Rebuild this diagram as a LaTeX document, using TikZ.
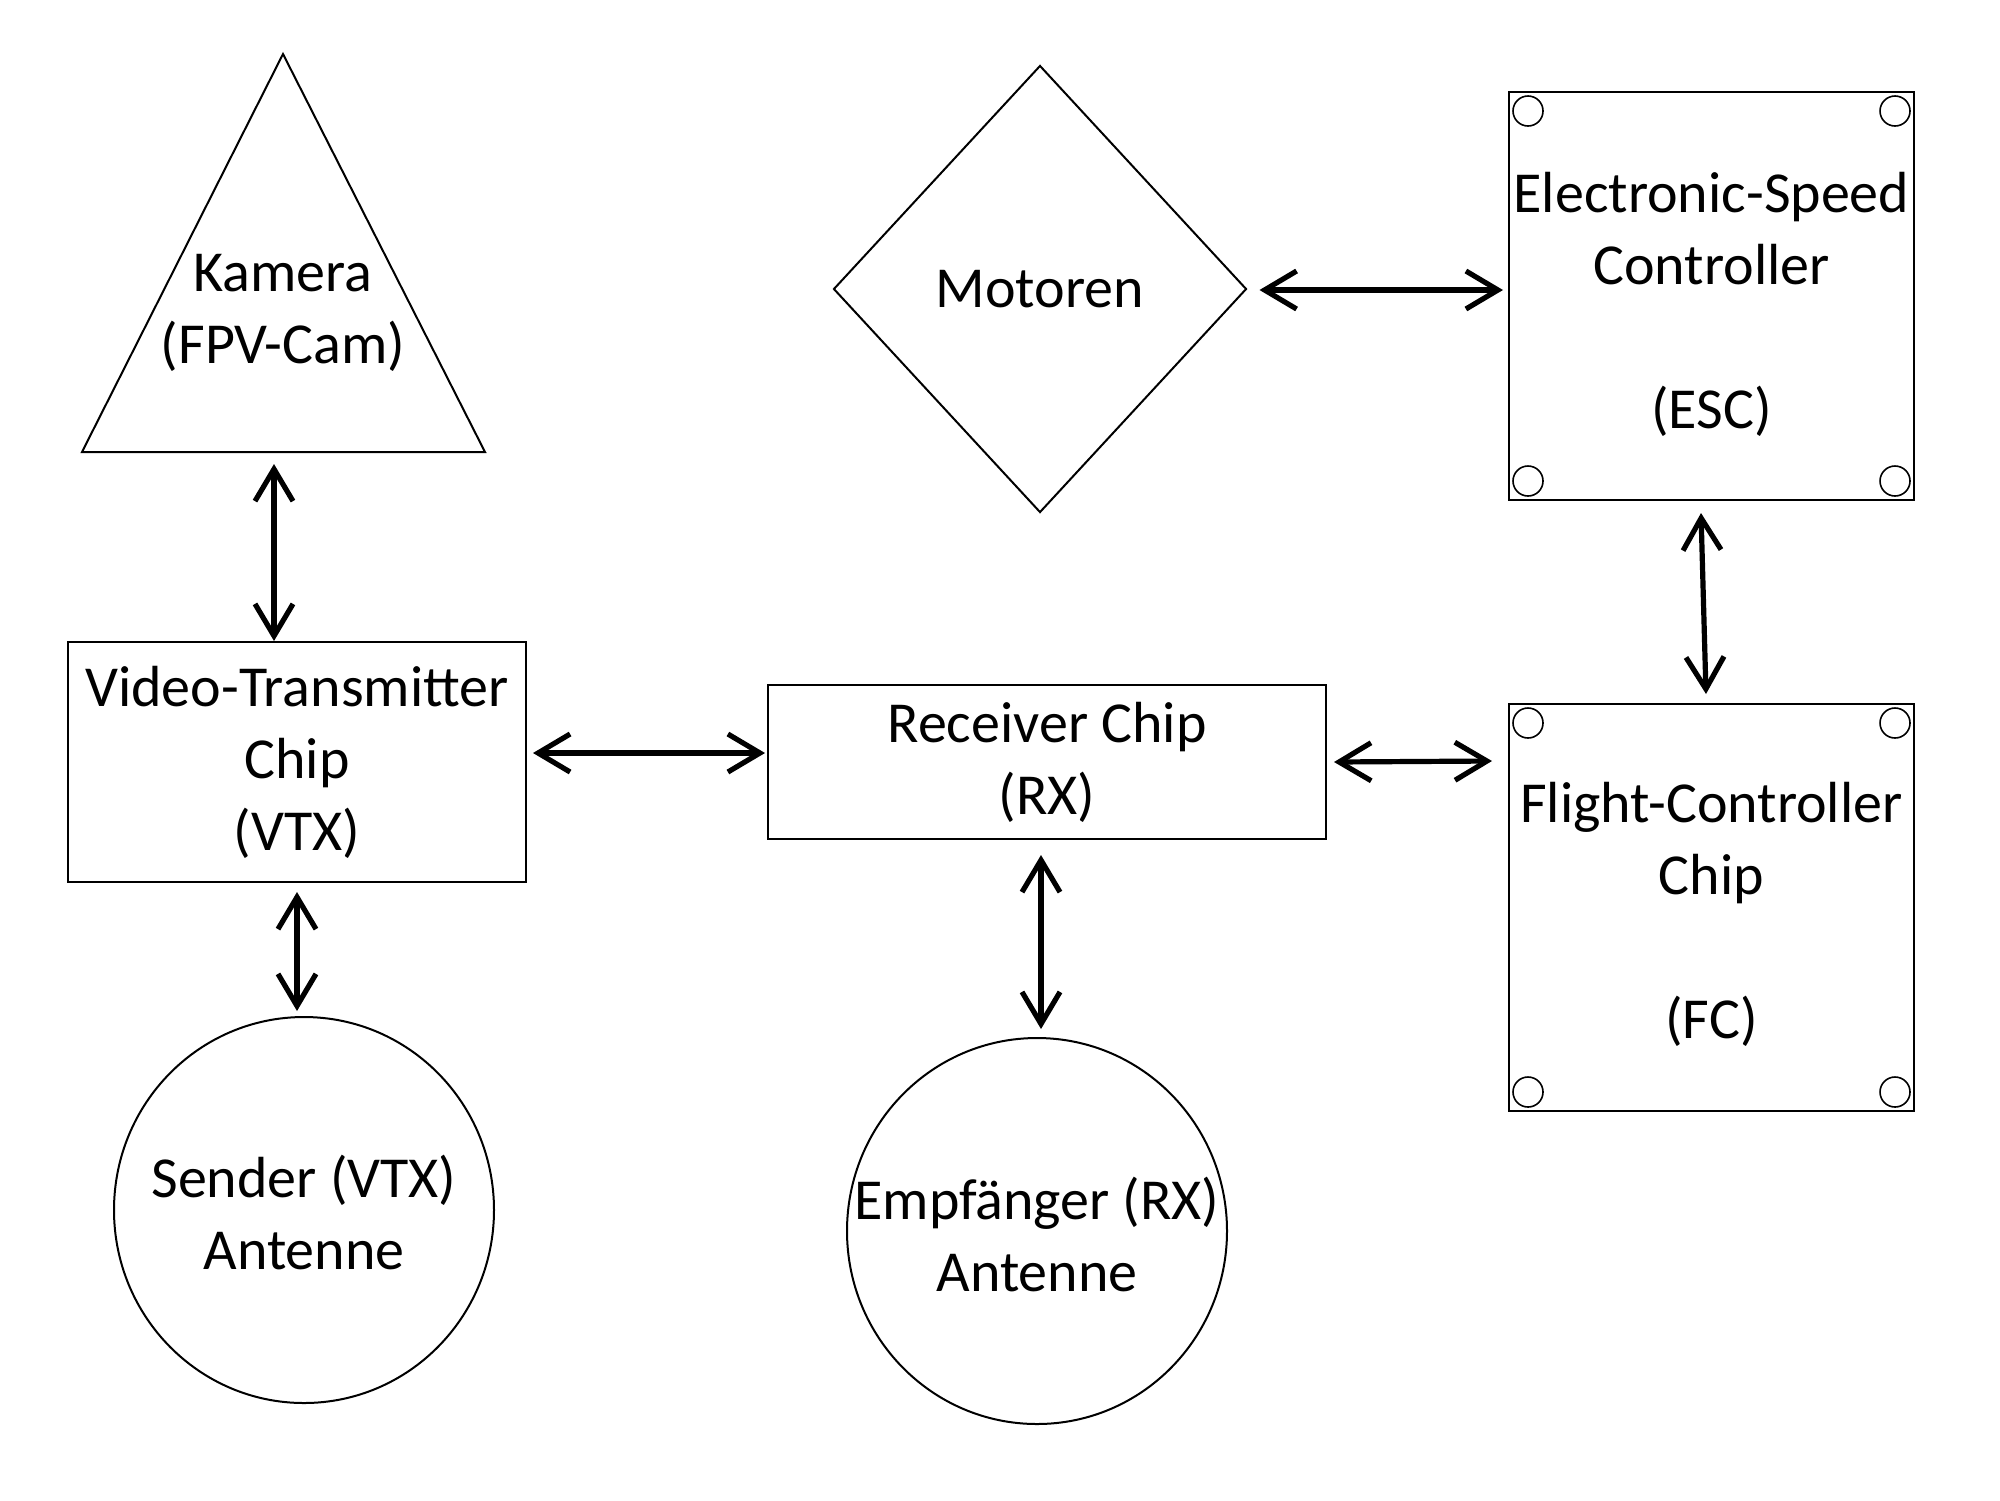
\documentclass[tikz,border=0pt]{standalone}
\usepackage{fontspec}
\setmainfont{Carlito}
\usetikzlibrary{arrows.meta,calc,shapes.geometric}
\begin{document}
\begin{tikzpicture}[x=0.5pt,y=-0.5pt,
  every node/.style={font=\fontsize{29}{36}\selectfont, align=center, inner sep=0pt},
  boxnode/.style={draw=black, line width=1pt, rectangle},
  roundnode/.style={draw=black, line width=1pt, ellipse},
  diamondnode/.style={draw=black, line width=1pt, diamond},
  hole/.style={draw=black, line width=0.8pt},
  arr/.style={line width=2.6pt, {Straight Barb[length=16pt,width=19pt]}-{Straight Barb[length=16pt,width=19pt]}}
]
\fill[white] (0,0) rectangle (2000,1500);
\useasboundingbox (0,0) rectangle (2000,1500);

% Kamera triangle
\draw[line width=1pt, line join=miter] (283,54) -- (485,452) -- (82,452) -- cycle;
\coordinate (cambase) at (283,452);
\node (cam) at (283,313) {Kamera\\(FPV-Cam)};

% Motoren diamond
\node[diamondnode, minimum width=206.5pt, minimum height=223.5pt] (mot) at (1040,289) {Motoren};

% ESC
\node[boxnode, minimum width=202.5pt, minimum height=204pt] (esc) at (1711.5,296) {};
\node (esctext) at (1711.5,304) {Electronic-Speed\\Controller\\ \\(ESC)};

% VTX
\node[boxnode, minimum width=229pt, minimum height=120pt] (vtx) at (297,762) {Video-Transmitter\\Chip\\(VTX)};

% RX
\node[boxnode, minimum width=279pt, minimum height=77pt] (rx) at (1047,762) {Receiver Chip\\(RX)};

% FC
\node[boxnode, minimum width=202.5pt, minimum height=203.5pt] (fc) at (1711.5,907.5) {};
\node (fctext) at (1711.5,914) {Flight-Controller\\Chip\\ \\(FC)};

% Antennas
\node[roundnode, minimum width=190pt, minimum height=193pt] (send) at (304,1210) {};
\node (sendtext) at (304,1212) {Sender (VTX)\\Antenne};
\node[roundnode, minimum width=190pt, minimum height=193pt] (emp) at (1037,1231) {};
\node (emptext) at (1037,1234) {Empfänger (RX)\\Antenne};

% corner holes
\foreach \b in {esc,fc}{
  \draw[hole] ($(\b.north west)+(20,20)$) circle[radius=7.5pt];
  \draw[hole] ($(\b.north east)+(-20,20)$) circle[radius=7.5pt];
  \draw[hole] ($(\b.south west)+(20,-20)$) circle[radius=7.5pt];
  \draw[hole] ($(\b.south east)+(-20,-20)$) circle[radius=7.5pt];
}

% connectors
\draw[arr] ($(cambase)+(-9,12)$) -- ($(vtx.north)+(-23,0)$);
\draw[arr] ($(vtx.south)+(0,9)$) -- ($(send.north)+(-7,-5)$);
\draw[arr] ($(vtx.east)+(6,-9)$) -- ($(rx.west)+(-2,-9)$);
\draw[arr] ($(rx.east)+(7,0)$) -- ($(rx.east -| fc.west)+(-16,-1)$);
\draw[arr] ($(rx.south)+(-6,15)$) -- ($(emp.north)+(4,-8)$);
\draw[arr] ($(mot.east)+(12,1)$) -- ($(mot.east -| esc.west)+(-5,1)$);
\draw[arr] ($(esc.south)+(-10.5,12)$) -- ($(fc.north)+(-5.5,-9)$);
\end{tikzpicture}
\end{document}
